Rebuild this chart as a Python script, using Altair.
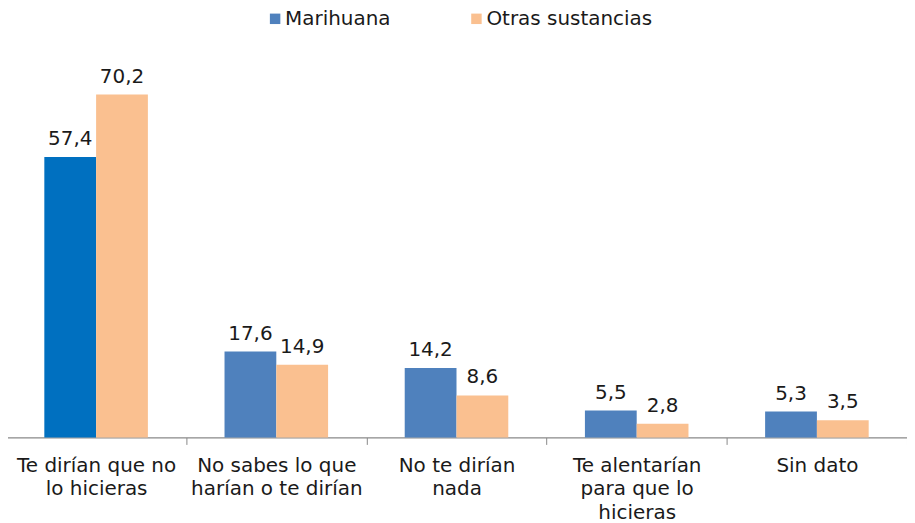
import altair as alt
import pandas as pd

categorias = ["Te dirían que no|lo hicieras", "No sabes lo que|harían o te dirían",
              "No te dirían|nada", "Te alentarían|para que lo|hicieras", "Sin dato"]
series = ["Marihuana", "Otras sustancias"]
marihuana = [57.4, 17.6, 14.2, 5.5, 5.3]
otras = [70.2, 14.9, 8.6, 2.8, 3.5]

rows = []
for i, c in enumerate(categorias):
    for s, vals in zip(series, [marihuana, otras]):
        v = vals[i]
        rows.append({"cat": c, "serie": s, "valor": v,
                     "etiqueta": f"{v:.1f}".replace(".", ","),
                     "destacado": (i == 0 and s == "Marihuana")})
df = pd.DataFrame(rows)

FONT = "DejaVu Sans"

x = alt.X("cat:N", sort=categorias, title=None,
          scale=alt.Scale(paddingInner=0, paddingOuter=0),
          axis=alt.Axis(labelExpr="isValid(datum.value) && indexof(datum.value + '', 'undefined') < 0 ? split(datum.value, '|') : ''",
                        labelAngle=0,
                        labelFontSize=20, labelFont=FONT, labelColor="#1a1a1a",
                        labelLineHeight=23.5, labelPadding=11, labelBaseline="top",
                        labelLimit=200,
                        tickBand="extent", tickSize=7, tickColor="#898989",
                        domainColor="#898989", domainWidth=1.2, grid=False))
xo = alt.XOffset("serie:N", sort=series,
                 scale=alt.Scale(paddingOuter=0.74, paddingInner=0))
y = alt.Y("valor:Q", axis=None, scale=alt.Scale(domain=[0, 80], nice=False))

base = alt.Chart(df)

bars = base.mark_bar().encode(
    x=x, xOffset=xo, y=y,
    color=alt.condition(
        "datum.destacado",
        alt.value("#0070C0"),
        alt.Color("serie:N", sort=series,
                  scale=alt.Scale(domain=series, range=["#4F81BD", "#FAC090"]),
                  legend=alt.Legend(title=None, orient="none", direction="horizontal",
                                    legendX=260, legendY=-38,
                                    symbolType="square", symbolSize=110,
                                    symbolStrokeWidth=0, symbolOpacity=1,
                                    labelFontSize=20, labelFont=FONT,
                                    labelLimit=300,
                                    labelColor="#1a1a1a", columnPadding=76,
                                    labelOffset=0)))
)

labels = base.mark_text(baseline="bottom", dy=-8, fontSize=20, font=FONT,
                        color="#1a1a1a").encode(
    x=x, xOffset=xo, y=y, text="etiqueta:N")

chart = (bars + labels).properties(
    width=904, height=392,
    autosize=alt.AutoSizeParams(type="none"),
    padding={"left": -2, "top": 38, "right": 0, "bottom": 85},
).configure_view(stroke=None)

chart.save("out.html", embed_options={"renderer": "svg", "actions": False})
